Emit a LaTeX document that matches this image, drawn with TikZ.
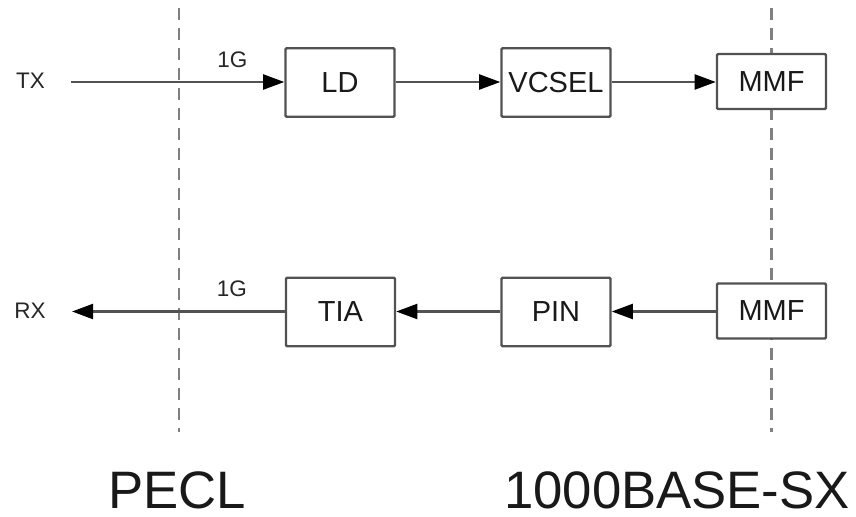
\documentclass[tikz,border=0pt]{standalone}
\usepackage{fontspec}
\setsansfont{Liberation Sans}
\usetikzlibrary{positioning, arrows.meta}

\begin{document}
\begin{tikzpicture}[
		x=0.02cm, y=-0.02cm,
		>={Triangle[length=12pt,width=8.5pt,color=black,fill=black]},
		font=\sffamily,
		block/.style={
			rectangle, draw=black!68, fill=white, line width=1.4pt, rounded corners=0.6pt,
			minimum width=2.18cm, minimum height=1.37cm, inner sep=0pt,
			font=\sffamily\fontsize{16.5}{18}\selectfont, text=black!90
		},
		fiber/.style={block, minimum height=1.1cm},
		arrow/.style={->, line width=1.4pt, draw=black!68},
		divider/.style={dashed, dash pattern=on 0.24cm off 0.16cm, line width=1.2pt, draw=black!50},
		rate/.style={inner sep=0pt, font=\sffamily\fontsize{12.8}{14}\selectfont, text=black!85},
		port/.style={inner sep=0pt, font=\sffamily\fontsize{12.8}{14}\selectfont, text=black!85},
		domainlabel/.style={inner sep=0pt, font=\sffamily\fontsize{30}{34}\selectfont, text=black!90}
		]
		\useasboundingbox (0,0) rectangle (856,517);
		
		% Interface boundaries
		\coordinate (peclTop) at (179,8);
		\coordinate (peclBot) at (179,432);
		\coordinate (sxTop) at (771.5,8);
		\coordinate (sxBot) at (771.5,432);
		\draw[divider] (peclTop) -- (peclBot);
		\draw[divider] (sxTop) -- (sxBot);
		
		% Transmit path
		\node[port] (tx) at (30.5,81) {TX};
		\coordinate (txStart) at (71,82);
		\node[block] (ld) at (340,82.5) {LD};
		\node[block] (vcsel) at (556,82.5) {VCSEL};
		\node[fiber] (mmfTx) at (771.5,81.5) {MMF};
		
		% Receive path
		\node[port] (rx) at (30,311) {RX};
		\coordinate (rxEnd) at (72,311.5);
		\node[block] (tia) at (340.5,312) {TIA};
		\node[block] (pin) at (556,312) {PIN};
		\node[fiber] (mmfRx) at (771.5,311) {MMF};
		
		% Forward links
		\draw[arrow] (txStart) -- node[rate, above=0.27cm, pos=0.757] (rateTx) {1G} (ld.west |- txStart);
		\draw[arrow] (ld.east |- txStart) -- (vcsel.west |- txStart);
		\draw[arrow] (vcsel.east |- txStart) -- (mmfTx.west |- txStart);
		
		\draw[arrow] (mmfRx.west |- rxEnd) -- (pin.east |- rxEnd);
		\draw[arrow] (pin.west |- rxEnd) -- (tia.east |- rxEnd);
		\draw[arrow] (tia.west |- rxEnd) -- node[rate, above=0.27cm, pos=0.249] (rateRx) {1G} (rxEnd);
		
		% Domain names
		\node[domainlabel] (pecl) at (177,490) {PECL};
		\node[domainlabel] (sx) at (677,490) {1000BASE-SX};
		
\end{tikzpicture}
\end{document}
